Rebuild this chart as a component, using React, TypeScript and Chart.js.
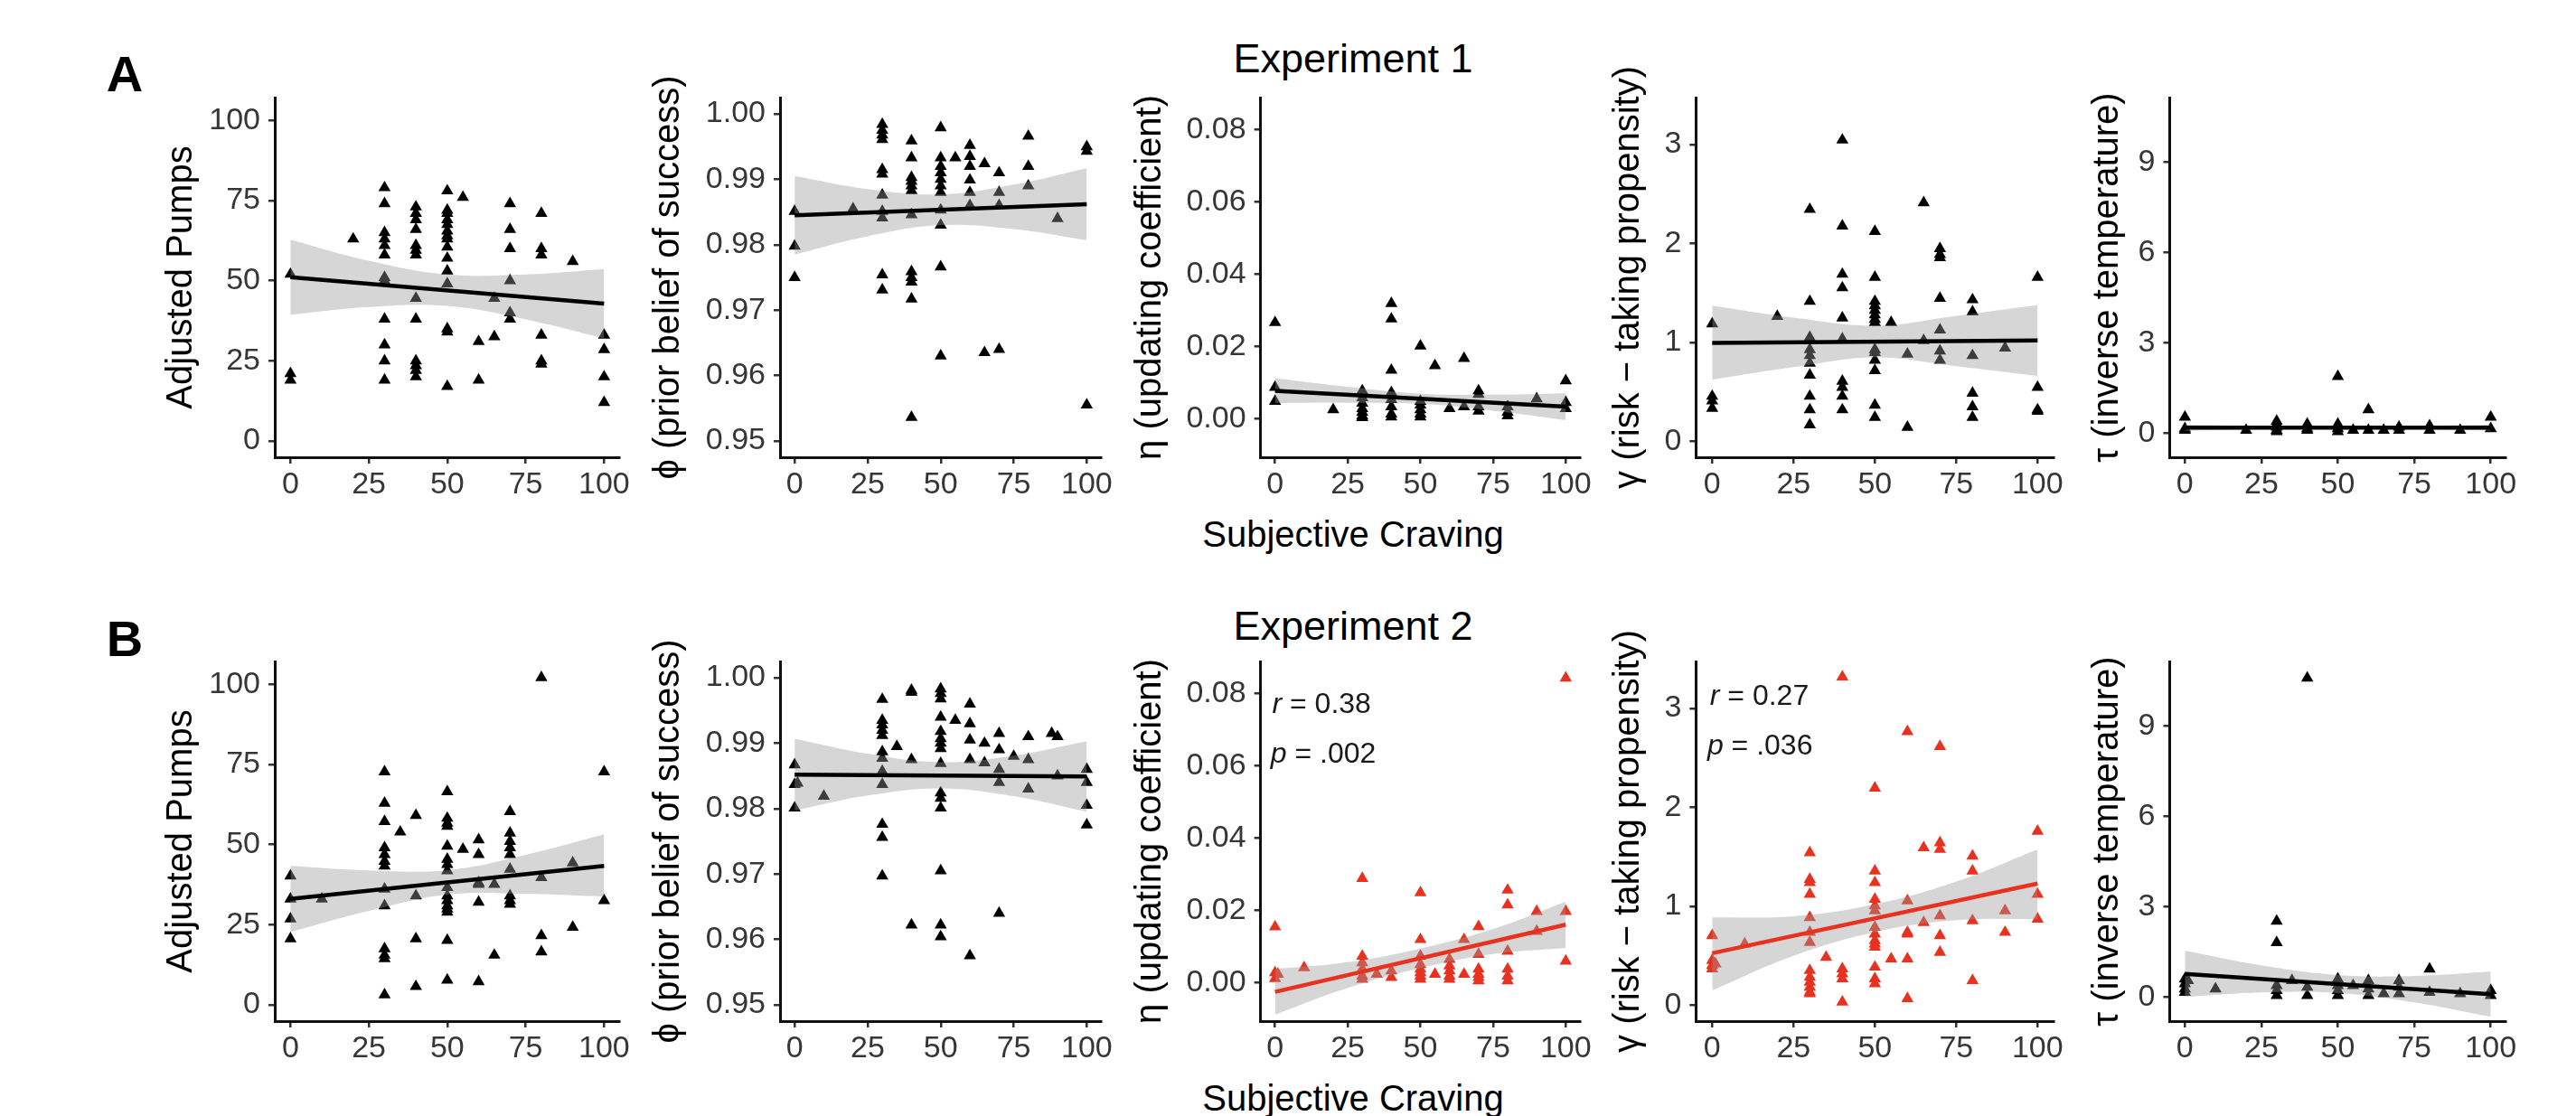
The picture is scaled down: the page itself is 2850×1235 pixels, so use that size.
import React, { useEffect, useRef } from "react";
import { Chart, registerables } from "chart.js";

Chart.register(...registerables);
Chart.defaults.font.family = '"Liberation Sans", Arial, Helvetica, sans-serif';

// ---------------- shared x (craving) axis ----------------
const CRAVING_TICKS = [0, 25, 50, 75, 100];
const CRAVING_RANGE = [-5, 105];
const BAND_X = [0, 25, 50, 75, 100];
const FIT_X = [0, 100];

// ---------------- y axes ----------------
const PUMPS_TICKS = [0, 25, 50, 75, 100];
const PUMPS_TICK_LABELS = ["0", "25", "50", "75", "100"];
const PUMPS_RANGE = [-5.1, 107.1];

const PHI_TICKS = [0.95, 0.96, 0.97, 0.98, 0.99, 1.0];
const PHI_TICK_LABELS = ["0.95", "0.96", "0.97", "0.98", "0.99", "1.00"];
const PHI_RANGE = [0.9475, 1.0025];

const ETA_TICKS = [0, 0.02, 0.04, 0.06, 0.08];
const ETA_TICK_LABELS = ["0.00", "0.02", "0.04", "0.06", "0.08"];
const ETA_RANGE = [-0.0107, 0.0889];

const GAMMA_TICKS = [0, 1, 2, 3];
const GAMMA_TICK_LABELS = ["0", "1", "2", "3"];
const GAMMA_RANGE = [-0.16, 3.475];

const TAU_TICKS = [0, 3, 6, 9];
const TAU_TICK_LABELS = ["0", "3", "6", "9"];
const TAU_RANGE = [-0.8, 11.14];

// ---------------- Experiment 1 ----------------
const exp1Levels = [0, 20, 30, 40, 50, 55, 60, 65, 70, 80, 90, 100];

const exp1Pumps = [
  [52, 21, 19],
  [63],
  [79, 74, 65, 63, 61, 58, 51, 50, 38, 30, 25, 19],
  [73, 71, 69, 66, 61, 59.5, 58, 44.5, 38, 25, 23.5, 22, 20],
  [78, 72, 71, 69, 67.5, 65.5, 64, 63, 60.5, 57, 53, 49, 35, 34, 17],
  [76],
  [31, 19],
  [44.5, 32.5],
  [74, 66, 60, 50, 40, 38],
  [71, 60, 58, 33, 25, 24],
  [56],
  [33, 28.5, 20, 12],
];
const exp1PumpsFit = [51.1, 42.8];
const exp1PumpsLo = [39.4, 41.8, 42.1, 37.9, 32.0];
const exp1PumpsHi = [62.8, 56.2, 51.9, 51.9, 53.6];

const exp1Phi = [
  [0.9851, 0.9798, 0.975],
  [0.9855],
  [0.9984, 0.9975, 0.9968, 0.9961, 0.9915, 0.9908, 0.9876, 0.9851, 0.9841, 0.9754, 0.9731],
  [0.9959, 0.9933, 0.9903, 0.9897, 0.989, 0.9883, 0.9846, 0.9759, 0.975, 0.9743, 0.9717, 0.9536],
  [0.9979, 0.9933, 0.992, 0.991, 0.99, 0.989, 0.988, 0.9853, 0.983, 0.9766, 0.963],
  [0.9933],
  [0.9952, 0.9935, 0.992, 0.9899, 0.988, 0.986],
  [0.9924, 0.9635],
  [0.991, 0.988, 0.986, 0.964],
  [0.9966, 0.992, 0.989],
  [0.984],
  [0.995, 0.9943, 0.9555],
];
const exp1PhiFit = [0.9845, 0.9862];
const exp1PhiLo = [0.9785, 0.9813, 0.983, 0.9824, 0.9807];
const exp1PhiHi = [0.9905, 0.9885, 0.9877, 0.9892, 0.9917];

const exp1Eta = [
  [0.0266, 0.0087, 0.0048],
  [0.0025],
  [0.0077, 0.0058, 0.0043, 0.0028, 0.0018, 0.0008, 0.0003],
  [0.0319, 0.0276, 0.0134, 0.0072, 0.0053, 0.0033, 0.0013, 0.0005],
  [0.0201, 0.0048, 0.0038, 0.0025, 0.0013, 0.0005],
  [0.0147],
  [0.0028],
  [0.0167, 0.0033],
  [0.0077, 0.0067, 0.0033, 0.0021],
  [0.0033, 0.0018, 0.0008],
  [0.0055],
  [0.0105, 0.0045, 0.0028],
];
const exp1EtaFit = [0.0077, 0.0033];
const exp1EtaLo = [0.0043, 0.0044, 0.0041, 0.0022, -0.0004];
const exp1EtaHi = [0.0112, 0.0088, 0.0069, 0.0066, 0.007];

const exp1Gamma = [
  [1.188, 0.457, 0.411, 0.335],
  [1.264],
  [2.345, 1.416, 1.051, 0.929, 0.868, 0.792, 0.67, 0.457, 0.32, 0.168],
  [3.046, 2.178, 1.69, 1.553, 1.249, 1.036, 0.609, 0.548, 0.457, 0.32],
  [2.123, 1.66, 1.416, 1.371, 1.325, 1.279, 1.234, 1.203, 0.929, 0.899, 0.822, 0.716, 0.366, 0.244],
  [1.203],
  [0.883, 0.143],
  [2.412, 1.02],
  [1.949, 1.889, 1.858, 1.447, 1.127, 0.914, 0.822],
  [1.432, 1.31, 0.868, 0.487, 0.35, 0.244],
  [0.944],
  [1.66, 0.548, 0.32, 0.305],
];
const exp1GammaFit = [0.996, 1.02];
const exp1GammaLo = [0.624, 0.75, 0.85, 0.76, 0.661];
const exp1GammaHi = [1.371, 1.25, 1.17, 1.27, 1.38];

const exp1Tau = [
  [0.53, 0.15, 0.1],
  [0.1],
  [0.4, 0.3, 0.2, 0.1, 0.05],
  [0.3, 0.15, 0.1],
  [1.88, 0.3, 0.15, 0.05],
  [0.1],
  [0.78, 0.1],
  [0.1],
  [0.2, 0.1],
  [0.25, 0.1],
  [0.1],
  [0.53, 0.15],
];
const exp1TauFit = [0.18, 0.18];
const exp1TauLo = [0.08, 0.12, 0.13, 0.12, 0.08];
const exp1TauHi = [0.28, 0.24, 0.23, 0.24, 0.28];

// ---------------- Experiment 2 ----------------
const exp2PumpsLevels = [0, 10, 30, 35, 40, 50, 55, 60, 65, 70, 80, 90, 100];
const exp2Pumps = [
  [40.2, 33.0, 26.8, 20.6],
  [33.0],
  [72.7, 62.9, 57.2, 49.0, 46.9, 44.8, 43.3, 36.1, 30.9, 17.5, 15.5, 14.4, 3.1],
  [53.9],
  [59.1, 34.0, 20.6, 5.7],
  [66.5, 58.2, 56.7, 55.7, 49.5, 45.4, 43.8, 41.8, 36.6, 34.0, 32.5, 30.9, 29.9, 28.9, 20.1, 7.7],
  [48.5],
  [51.5, 46.9, 38.1, 37.6, 32.0, 7.2],
  [37.6, 15.5],
  [60.3, 53.6, 51.0, 49.0, 46.9, 42.3, 34.0, 32.5, 31.4],
  [102.1, 39.7, 21.6, 16.5],
  [44.3, 24.2],
  [72.7, 32.5],
];
const exp2PumpsFit = [33.0, 43.3];
const exp2PumpsLo = [22.7, 29.3, 34.4, 34.6, 33.8];
const exp2PumpsHi = [43.3, 41.9, 42.0, 46.8, 53.2];

const exp2PhiLevels = [0, 1, 10, 30, 35, 40, 50, 55, 60, 65, 70, 75, 80, 88, 90, 100];
const exp2Phi = [
  [0.9867, 0.9837, 0.9801],
  [0.9839],
  [0.9819],
  [0.9967, 0.9935, 0.9928, 0.992, 0.9912, 0.9887, 0.9877, 0.9857, 0.9837, 0.9776, 0.9756, 0.9697],
  [0.9895],
  [0.9981, 0.9978, 0.9875, 0.9622],
  [0.9983, 0.9976, 0.9968, 0.994, 0.9918, 0.9907, 0.99, 0.9892, 0.9869, 0.9824, 0.9816, 0.9801, 0.9705, 0.9622, 0.9604],
  [0.9935],
  [0.996, 0.993, 0.9905, 0.9875, 0.9575],
  [0.99, 0.987],
  [0.9915, 0.989, 0.986, 0.984, 0.964],
  [0.988],
  [0.991, 0.9875, 0.983],
  [0.9915],
  [0.991, 0.985],
  [0.986, 0.984, 0.9805, 0.9775],
];
const exp2PhiFit = [0.9852, 0.9849];
const exp2PhiLo = [0.9797, 0.982, 0.9831, 0.9819, 0.9795];
const exp2PhiHi = [0.9907, 0.9884, 0.9871, 0.9881, 0.9903];

const exp2Levels = [0, 1, 10, 30, 35, 40, 50, 55, 60, 65, 70, 80, 90, 100];
const exp2Eta = [
  [0.0154, 0.0027, 0.0011],
  [0.0023],
  [0.0041],
  [0.0288, 0.0073, 0.0055, 0.0037, 0.0018, 0.0009],
  [0.0023],
  [0.0032, 0.0014],
  [0.0249, 0.0119, 0.0073, 0.005, 0.0037, 0.0027, 0.0018, 0.0009],
  [0.0023],
  [0.0064, 0.0046, 0.0032, 0.0018, 0.0009],
  [0.0119, 0.0023],
  [0.0155, 0.0078, 0.0037, 0.0023, 0.0014, 0.0005],
  [0.0256, 0.0215, 0.0087, 0.0037, 0.0018, 0.0005],
  [0.0197, 0.0142],
  [0.0843, 0.0197, 0.0059],
];
const exp2EtaFit = [-0.0026, 0.016];
const exp2EtaLo = [-0.0089, -0.0015, 0.004, 0.0079, 0.0096];
const exp2EtaHi = [0.0037, 0.0056, 0.0094, 0.0148, 0.0224];
const exp2EtaStat = ["0.38", ".002"];

const exp2Gamma = [
  [0.704, 0.453, 0.402, 0.369],
  [0.42],
  [0.62],
  [1.542, 1.274, 1.24, 1.123, 0.888, 0.738, 0.637, 0.352, 0.285, 0.235, 0.184, 0.134, 0.117],
  [0.486],
  [3.319, 0.369, 0.318, 0.268, 0.034],
  [2.196, 1.358, 1.24, 1.073, 1.006, 0.955, 0.788, 0.721, 0.654, 0.62, 0.587, 0.386, 0.268, 0.218],
  [0.469],
  [2.766, 1.056, 0.738, 0.721, 0.469, 0.067],
  [1.592, 0.838],
  [2.615, 1.643, 1.576, 0.905, 0.704, 0.536],
  [1.509, 1.358, 0.855, 0.251],
  [0.955, 0.738],
  [1.76, 1.123, 0.872],
];
const exp2GammaFit = [0.526, 1.23];
const exp2GammaLo = [0.151, 0.5, 0.74, 0.86, 0.872];
const exp2GammaHi = [0.888, 0.9, 1.02, 1.25, 1.576];
const exp2GammaStat = ["0.27", ".036"];

const exp2Tau = [
  [0.6, 0.44, 0.27, 0.16],
  [0.55],
  [0.27],
  [2.52, 1.81, 0.38, 0.22, 0.05],
  [0.55],
  [10.59, 0.33, 0.05],
  [0.6, 0.38, 0.22, 0.05],
  [0.38],
  [0.55, 0.27, 0.05],
  [0.11],
  [0.55, 0.33, 0.11],
  [0.93, 0.16],
  [0.11],
  [0.22, 0.05],
];
const exp2TauFit = [0.77, 0.09];
const exp2TauLo = [0, 0.15, 0.13, -0.18, -0.66];
const exp2TauHi = [1.54, 1.05, 0.73, 0.7, 0.84];

// ---------------- titles ----------------
const Y_TITLES = [
  "Adjusted Pumps",
  "\u03d5 (prior belief of success)",
  "\u03b7 (updating coefficient)",
  "\u03b3 (risk \u2212 taking propensity)",
  "\u03c4 (inverse temperature)",
];
const EXPERIMENT_TITLES = ["Experiment 1", "Experiment 2"];
const ROW_LETTERS = ["A", "B"];
const X_TITLE = "Subjective Craving";

// ---------------- layout / style ----------------
const RED = "#E8311F";
const BAND_FILL = "rgba(153,153,153,0.4)";
const TICK_COLOR = "#363636";
const COLS = [
  { left: 177, axisX: 304, right: 685.7 },
  { left: 716, axisX: 863, right: 1218.5 },
  { left: 1249, axisX: 1394.6, right: 1748.4 },
  { left: 1778, axisX: 1876.3, right: 2272.3 },
  { left: 2308, axisX: 2400.4, right: 2772.6 },
];
const ROW_TOPS = [108, 732];
const PLOT_H = 398;
const PAD_TOP = 40;
const X_AXIS_H = 60;
const PAD_RIGHT = 34;
const TICK_FONT = 34;

type Stat = { sym: string; text: string; x: number; y: number };
type PanelDef = {
  row: number; col: number; ticks: number[]; labels: string[]; range: number[];
  levels: number[]; values: number[][]; fit: number[]; lo: number[]; hi: number[];
  red?: boolean; stats?: Stat[];
};

const PANELS: PanelDef[] = [
  { row: 0, col: 0, ticks: PUMPS_TICKS, labels: PUMPS_TICK_LABELS, range: PUMPS_RANGE, levels: exp1Levels, values: exp1Pumps, fit: exp1PumpsFit, lo: exp1PumpsLo, hi: exp1PumpsHi },
  { row: 0, col: 1, ticks: PHI_TICKS, labels: PHI_TICK_LABELS, range: PHI_RANGE, levels: exp1Levels, values: exp1Phi, fit: exp1PhiFit, lo: exp1PhiLo, hi: exp1PhiHi },
  { row: 0, col: 2, ticks: ETA_TICKS, labels: ETA_TICK_LABELS, range: ETA_RANGE, levels: exp1Levels, values: exp1Eta, fit: exp1EtaFit, lo: exp1EtaLo, hi: exp1EtaHi },
  { row: 0, col: 3, ticks: GAMMA_TICKS, labels: GAMMA_TICK_LABELS, range: GAMMA_RANGE, levels: exp1Levels, values: exp1Gamma, fit: exp1GammaFit, lo: exp1GammaLo, hi: exp1GammaHi },
  { row: 0, col: 4, ticks: TAU_TICKS, labels: TAU_TICK_LABELS, range: TAU_RANGE, levels: exp1Levels, values: exp1Tau, fit: exp1TauFit, lo: exp1TauLo, hi: exp1TauHi },
  { row: 1, col: 0, ticks: PUMPS_TICKS, labels: PUMPS_TICK_LABELS, range: PUMPS_RANGE, levels: exp2PumpsLevels, values: exp2Pumps, fit: exp2PumpsFit, lo: exp2PumpsLo, hi: exp2PumpsHi },
  { row: 1, col: 1, ticks: PHI_TICKS, labels: PHI_TICK_LABELS, range: PHI_RANGE, levels: exp2PhiLevels, values: exp2Phi, fit: exp2PhiFit, lo: exp2PhiLo, hi: exp2PhiHi },
  { row: 1, col: 2, ticks: ETA_TICKS, labels: ETA_TICK_LABELS, range: ETA_RANGE, levels: exp2Levels, values: exp2Eta, fit: exp2EtaFit, lo: exp2EtaLo, hi: exp2EtaHi, red: true,
    stats: [{ sym: "r", text: " = " + exp2EtaStat[0], x: -1, y: 0.0768 }, { sym: "p", text: " = " + exp2EtaStat[1], x: -1.5, y: 0.0631 }] },
  { row: 1, col: 3, ticks: GAMMA_TICKS, labels: GAMMA_TICK_LABELS, range: GAMMA_RANGE, levels: exp2Levels, values: exp2Gamma, fit: exp2GammaFit, lo: exp2GammaLo, hi: exp2GammaHi, red: true,
    stats: [{ sym: "r", text: " = " + exp2GammaStat[0], x: -0.7, y: 3.118 }, { sym: "p", text: " = " + exp2GammaStat[1], x: -1.5, y: 2.615 }] },
  { row: 1, col: 4, ticks: TAU_TICKS, labels: TAU_TICK_LABELS, range: TAU_RANGE, levels: exp2Levels, values: exp2Tau, fit: exp2TauFit, lo: exp2TauLo, hi: exp2TauHi },
];

function Panel({ p }: { p: PanelDef }) {
  const ref = useRef<HTMLCanvasElement>(null);
  const col = COLS[p.col];
  const top = ROW_TOPS[p.row] - PAD_TOP;
  const W = Math.ceil(col.right - col.left + PAD_RIGHT);
  const H = PAD_TOP + PLOT_H + X_AXIS_H;

  useEffect(() => {
    if (!ref.current) return;
    const color = p.red ? RED : "#000000";
    const pts = p.levels.flatMap((lv, i) => p.values[i].map((v) => ({ x: lv, y: v })));
    const gridOpts = { display: true, drawOnChartArea: false, drawTicks: true, tickLength: 7, color: "#333333", lineWidth: 2.5 };
    const borderOpts = { display: true, color: "#111111", width: 3 };
    const stats = p.stats || [];
    const statPlugin = {
      id: "stat",
      afterDatasetsDraw(chart: any) {
        if (!stats.length) return;
        const { ctx } = chart;
        const xs = chart.scales.x, ys = chart.scales.y;
        ctx.save();
        ctx.fillStyle = "#1a1a1a";
        ctx.textBaseline = "middle";
        ctx.textAlign = "left";
        for (const s of stats) {
          const px = xs.getPixelForValue(s.x);
          const py = ys.getPixelForValue(s.y);
          ctx.font = 'italic 32px "Liberation Sans", Arial, sans-serif';
          ctx.fillText(s.sym, px, py);
          const w = ctx.measureText(s.sym).width;
          ctx.font = '32px "Liberation Sans", Arial, sans-serif';
          ctx.fillText(s.text, px + w, py);
        }
        ctx.restore();
      },
    };
    const chart = new Chart(ref.current, {
      type: "scatter",
      data: {
        datasets: [
          { type: "scatter", data: pts, pointStyle: "triangle", pointRadius: 7.8, pointHoverRadius: 7.8, backgroundColor: color, borderWidth: 0, order: 3 } as any,
          { type: "line", data: BAND_X.map((x, i) => ({ x, y: p.lo[i] })), borderWidth: 0, borderColor: "rgba(0,0,0,0)", pointRadius: 0, tension: 0.4, fill: false, order: 2 } as any,
          { type: "line", data: BAND_X.map((x, i) => ({ x, y: p.hi[i] })), borderWidth: 0, borderColor: "rgba(0,0,0,0)", pointRadius: 0, tension: 0.4, fill: "-1", backgroundColor: BAND_FILL, order: 2 } as any,
          { type: "line", data: FIT_X.map((x, i) => ({ x, y: p.fit[i] })), borderColor: color, borderWidth: 4.5, pointRadius: 0, fill: false, order: 1 } as any,
        ],
      },
      options: {
        animation: false,
        responsive: false,
        events: [],
        layout: { padding: { top: PAD_TOP, right: W - (col.right - col.left), left: 0, bottom: 0 } },
        plugins: { legend: { display: false }, tooltip: { enabled: false } },
        scales: {
          x: {
            type: "linear",
            min: CRAVING_RANGE[0],
            max: CRAVING_RANGE[1],
            afterBuildTicks: (s: any) => { s.ticks = CRAVING_TICKS.map((v) => ({ value: v })); },
            afterFit: (s: any) => { s.height = X_AXIS_H; },
            grid: gridOpts,
            border: borderOpts,
            ticks: { color: TICK_COLOR, font: { size: TICK_FONT }, padding: 3, maxRotation: 0, autoSkip: false, callback: (v: any) => String(v) },
          },
          y: {
            type: "linear",
            min: p.range[0],
            max: p.range[1],
            afterBuildTicks: (s: any) => { s.ticks = p.ticks.map((v) => ({ value: v })); },
            afterFit: (s: any) => { s.width = col.axisX - col.left; },
            grid: gridOpts,
            border: borderOpts,
            ticks: { color: TICK_COLOR, font: { size: TICK_FONT }, padding: 9, autoSkip: false, callback: (_v: any, i: number) => p.labels[i] },
            title: { display: true, text: Y_TITLES[p.col], color: "#000000", font: { size: 40 }, padding: 0 },
          },
        },
      } as any,
      plugins: [statPlugin],
    });
    return () => chart.destroy();
  }, []);

  return (
    <canvas
      ref={ref}
      width={W}
      height={H}
      style={{ position: "absolute", left: col.left, top, width: W, height: H }}
    />
  );
}

function Label({ text, x, y, size, bold }: { text: string; x: number; y: number; size: number; bold?: boolean }) {
  return (
    <div
      style={{
        position: "absolute",
        left: x,
        top: y,
        transform: "translate(-50%, -50%)",
        fontSize: size,
        lineHeight: 1,
        fontWeight: bold ? 700 : 400,
        whiteSpace: "nowrap",
        color: "#000",
      }}
    >
      {text}
    </div>
  );
}

export default function App() {
  return (
    <div
      style={{
        position: "fixed",
        left: 0,
        top: 0,
        width: 2850,
        height: 1235,
        overflow: "hidden",
        background: "#ffffff",
        fontFamily: '"Liberation Sans", Arial, Helvetica, sans-serif',
      }}
    >
      <Label text={ROW_LETTERS[0]} x={138} y={82} size={56} bold />
      <Label text={ROW_LETTERS[1]} x={138} y={707} size={56} bold />
      <Label text={EXPERIMENT_TITLES[0]} x={1497} y={64} size={45} />
      <Label text={EXPERIMENT_TITLES[1]} x={1497} y={692} size={45} />
      <Label text={X_TITLE} x={1497} y={591} size={40} />
      <Label text={X_TITLE} x={1497} y={1215} size={40} />
      {PANELS.map((p, i) => (
        <Panel key={i} p={p} />
      ))}
    </div>
  );
}
